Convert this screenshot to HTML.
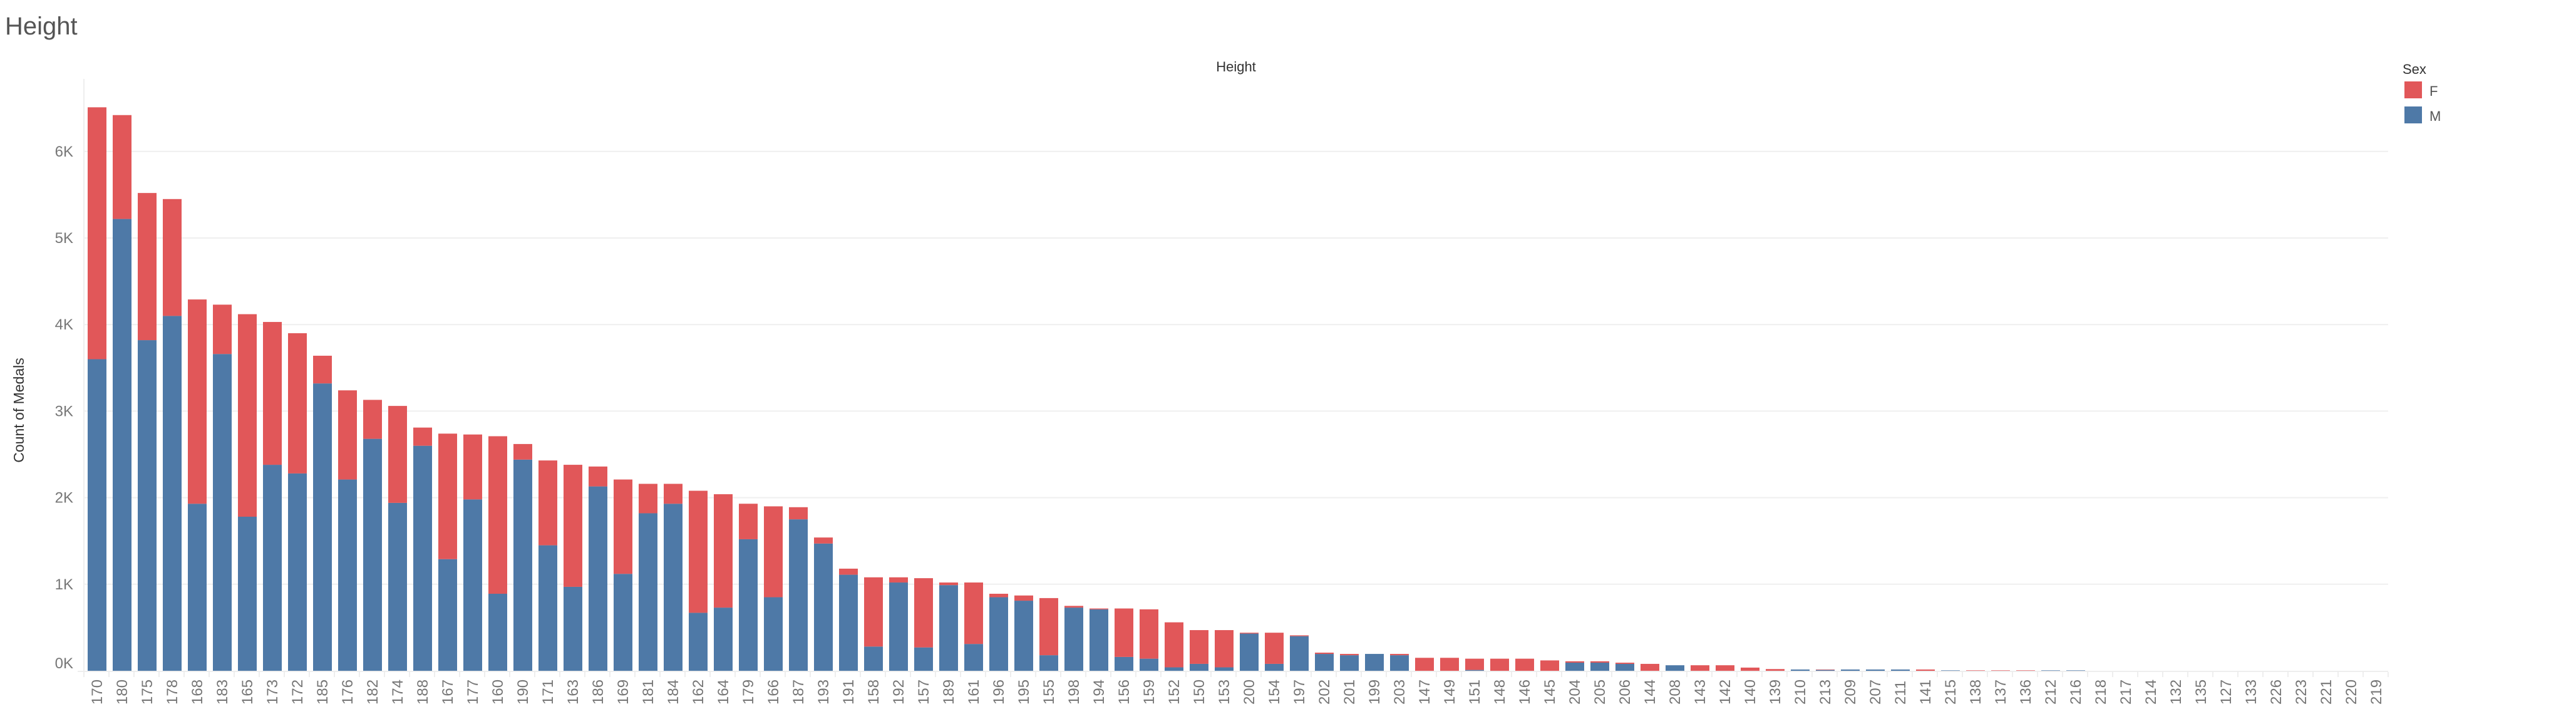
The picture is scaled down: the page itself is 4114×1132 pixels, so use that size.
<!DOCTYPE html>
<html><head><meta charset="utf-8"><style>
html,body{margin:0;padding:0;background:#fff;}
body{width:4114px;height:1132px;overflow:hidden;font-family:"Liberation Sans",sans-serif;}
svg{display:block;}
</style></head><body>
<svg id="chart" width="4114" height="1132">
<text x="8" y="55" font-size="40" fill="#555">Height</text>
<text x="1974" y="114" font-size="22" fill="#333" text-anchor="middle">Height</text>
<text transform="translate(38,655) rotate(-90)" font-size="23" fill="#333" text-anchor="middle">Count of Medals</text>
<g id="grid"></g><g id="bars"></g><g id="xlabels"></g><g id="ylabels"></g>
<g>
<text x="3837" y="118" font-size="22" fill="#333">Sex</text>
<rect x="3840" y="130" width="28" height="27" fill="#e15759"></rect>
<text x="3880" y="153" font-size="22" fill="#555">F</text>
<rect x="3840" y="170" width="28" height="27" fill="#4e79a7"></rect>
<text x="3880" y="193" font-size="22" fill="#555">M</text>
</g>
</svg>
<script>
const categories=["170","180","175","178","168","183","165","173","172","185","176","182","174","188","167","177","160","190","171","163","186","169","181","184","162","164","179","166","187","193","191","158","192","157","189","161","196","195","155","198","194","156","159","152","150","153","200","154","197","202","201","199","203","147","149","151","148","146","145","204","205","206","144","208","143","142","140","139","210","213","209","207","211","141","215","138","137","136","212","216","218","217","214","132","135","127","133","226","223","221","220","219"];
const totals=[6510,6420,5520,5450,4290,4230,4120,4030,3900,3640,3240,3130,3060,2810,2740,2730,2710,2620,2430,2380,2360,2210,2160,2160,2080,2040,1930,1900,1890,1540,1180,1080,1080,1070,1020,1020,890,870,840,750,720,720,710,560,470,470,440,440,410,210,195,195,195,150,150,140,140,140,120,110,110,94,80,64,64,64,37,20,15,15,15,15,15,15,5,5,5,5,5,5,0,0,0,0,0,0,0,0,0,0,0,0];
const male=[3600,5220,3820,4100,1930,3660,1780,2380,2280,3320,2210,2680,1940,2600,1290,1980,890,2440,1450,970,2130,1120,1820,1930,670,730,1520,850,1750,1470,1110,280,1020,270,990,310,850,810,180,730,710,160,140,40,80,40,430,80,400,195,180,195,180,0,0,10,0,0,0,94,94,80,0,64,0,0,0,0,15,10,15,15,15,0,5,0,0,0,5,5,0,0,0,0,0,0,0,0,0,0,0,0];
const yTicks=[0,1000,2000,3000,4000,5000,6000];
const yTickLabels=["0K","1K","2K","3K","4K","5K","6K"];
const NS="http://www.w3.org/2000/svg";
const x0=134,band=40,barW=30,base=1071,pxPer=138.2/1000,xEnd=3814;
const yScale=v=>base-v*pxPer;
const xScale=i=>x0+i*band;
function mk(tag,attrs,parent){const e=document.createElementNS(NS,tag);for(const k in attrs)e.setAttribute(k,attrs[k]);parent.appendChild(e);return e;}
const grid=document.getElementById('grid'),bars=document.getElementById('bars'),xl=document.getElementById('xlabels'),yl=document.getElementById('ylabels');
mk('line',{x1:x0,y1:126,x2:x0,y2:1072,stroke:'#eee','stroke-width':2},grid);
yTicks.forEach((t,i)=>{
  if(t>0){const g=mk('line',{x1:x0,y1:yScale(t),x2:xEnd,y2:yScale(t),stroke:'#efefef','stroke-width':2},grid);
  
  }
  const tx=mk('text',{x:117,y:yScale(t)+(t===0?-4:8),'font-size':24,fill:'#777','text-anchor':'end'},yl);
  tx.textContent=yTickLabels[i];
  
  
});
mk('line',{x1:124,y1:1072,x2:xEnd,y2:1072,stroke:'#eee','stroke-width':2},grid);
categories.forEach((c,i)=>{
  const x=xScale(i);
  mk('line',{x1:x,y1:1073,x2:x,y2:1081,stroke:'#eee','stroke-width':2},grid);
  const m=male[i],f=totals[i]-male[i];
  if(m>0){const r=mk('rect',{x:x+6,y:yScale(m),width:barW,height:base-yScale(m),fill:'#4e79a7'},bars);
    
    }
  if(f>0){const r=mk('rect',{x:x+6,y:yScale(totals[i]),width:barW,height:yScale(m)-yScale(totals[i]),fill:'#e15759'},bars);
    
    }
  const t=mk('text',{transform:`translate(${x+29},1125) rotate(-90)`,'font-size':24,fill:'#777'},xl);
  t.textContent=c;
  
  
});
mk('line',{x1:xEnd,y1:1073,x2:xEnd,y2:1081,stroke:'#eee','stroke-width':2},grid);
</script>
</body></html>
